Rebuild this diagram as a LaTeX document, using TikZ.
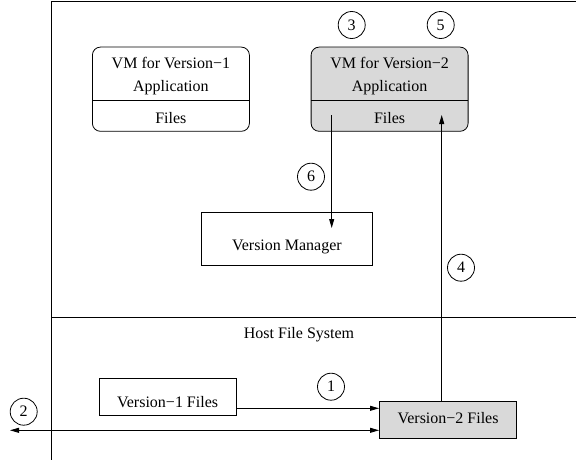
\documentclass[tikz,border=0pt]{standalone}
\usepackage{fontspec}
\setmainfont{Liberation Serif}
\usetikzlibrary{arrows.meta}
\usetikzlibrary{shapes.multipart}

\begin{document}
\begin{tikzpicture}[x=1pt,y=-1pt,line width=0.8pt,
  font=\fontsize{16}{23.7}\selectfont,
  vmbox/.style={draw,rectangle split,rectangle split parts=2,rounded corners=8pt,
    minimum width=157pt,inner xsep=0pt,inner ysep=5pt,align=center,anchor=north west},
  filebox/.style={draw,inner sep=0pt,align=center,anchor=north west},
  numcirc/.style={draw,circle,inner sep=0pt,minimum size=27pt},
  arr/.style={-{Triangle[length=9pt,width=5pt]}},
  dblarr/.style={{Triangle[length=9pt,width=5pt]}-{Triangle[length=9pt,width=5pt]}}]

\useasboundingbox (0,0) rectangle (576,460);

% frame and host file system border
\draw (51,460) -- (51,1) -- (576,1);
\draw (51,317.7) -- (576,317.7);
\node (hostfs) at (299,335) {Host File System};

% the two virtual machines
\node[vmbox] (vmA) at (92,46.7)
  {\rule{0pt}{15.5pt}VM for Version−1\\Application \nodepart{two}\rule[-2pt]{0pt}{20pt}Files};
\node[vmbox,fill=gray!30] (vmB) at (310.7,46.7)
  {\rule{0pt}{15.5pt}VM for Version−2\\Application \nodepart{two}\rule[-2pt]{0pt}{20pt}Files};

% version manager
\node[filebox,minimum width=171pt,text height=38.8pt,text depth=14.2pt] (vmgr) at (201,211.7) {Version Manager};

% files on the host
\node[filebox,minimum width=137pt,text height=29.5pt,text depth=7.8pt] (v1files) at (98.7,378) {Version−1 Files};
\node[filebox,fill=gray!30,minimum width=137.3pt,text height=22.1pt,text depth=15.5pt] (v2files) at (379,400.7) {Version−2 Files};

% end points of the arrows
\coordinate (vmBout) at (331.7,115);
\coordinate (vmgrin) at (331.7,228);
\coordinate (vmBin) at (441.7,115);
\coordinate (copyrow) at (300,408.3);
\coordinate (outside) at (10,430.3);

% arrows
\draw[arr] (v1files.east |- copyrow) -- (v2files.west |- copyrow);
\draw[dblarr] (outside) -- (v2files.west |- outside);
\draw[arr] (v2files.north -| vmBin) -- (vmBin);
\draw[arr] (vmBout) -- (vmgrin);

% step numbers
\node[numcirc] (n1) at (331,386.7) {1};
\node[numcirc] (n2) at (23.7,411.7) {2};
\node[numcirc] (n3) at (351.7,25) {3};
\node[numcirc] (n4) at (461,267.7) {4};
\node[numcirc] (n5) at (440.7,25) {5};
\node[numcirc] (n6) at (311,176.7) {6};

\end{tikzpicture}
\end{document}
